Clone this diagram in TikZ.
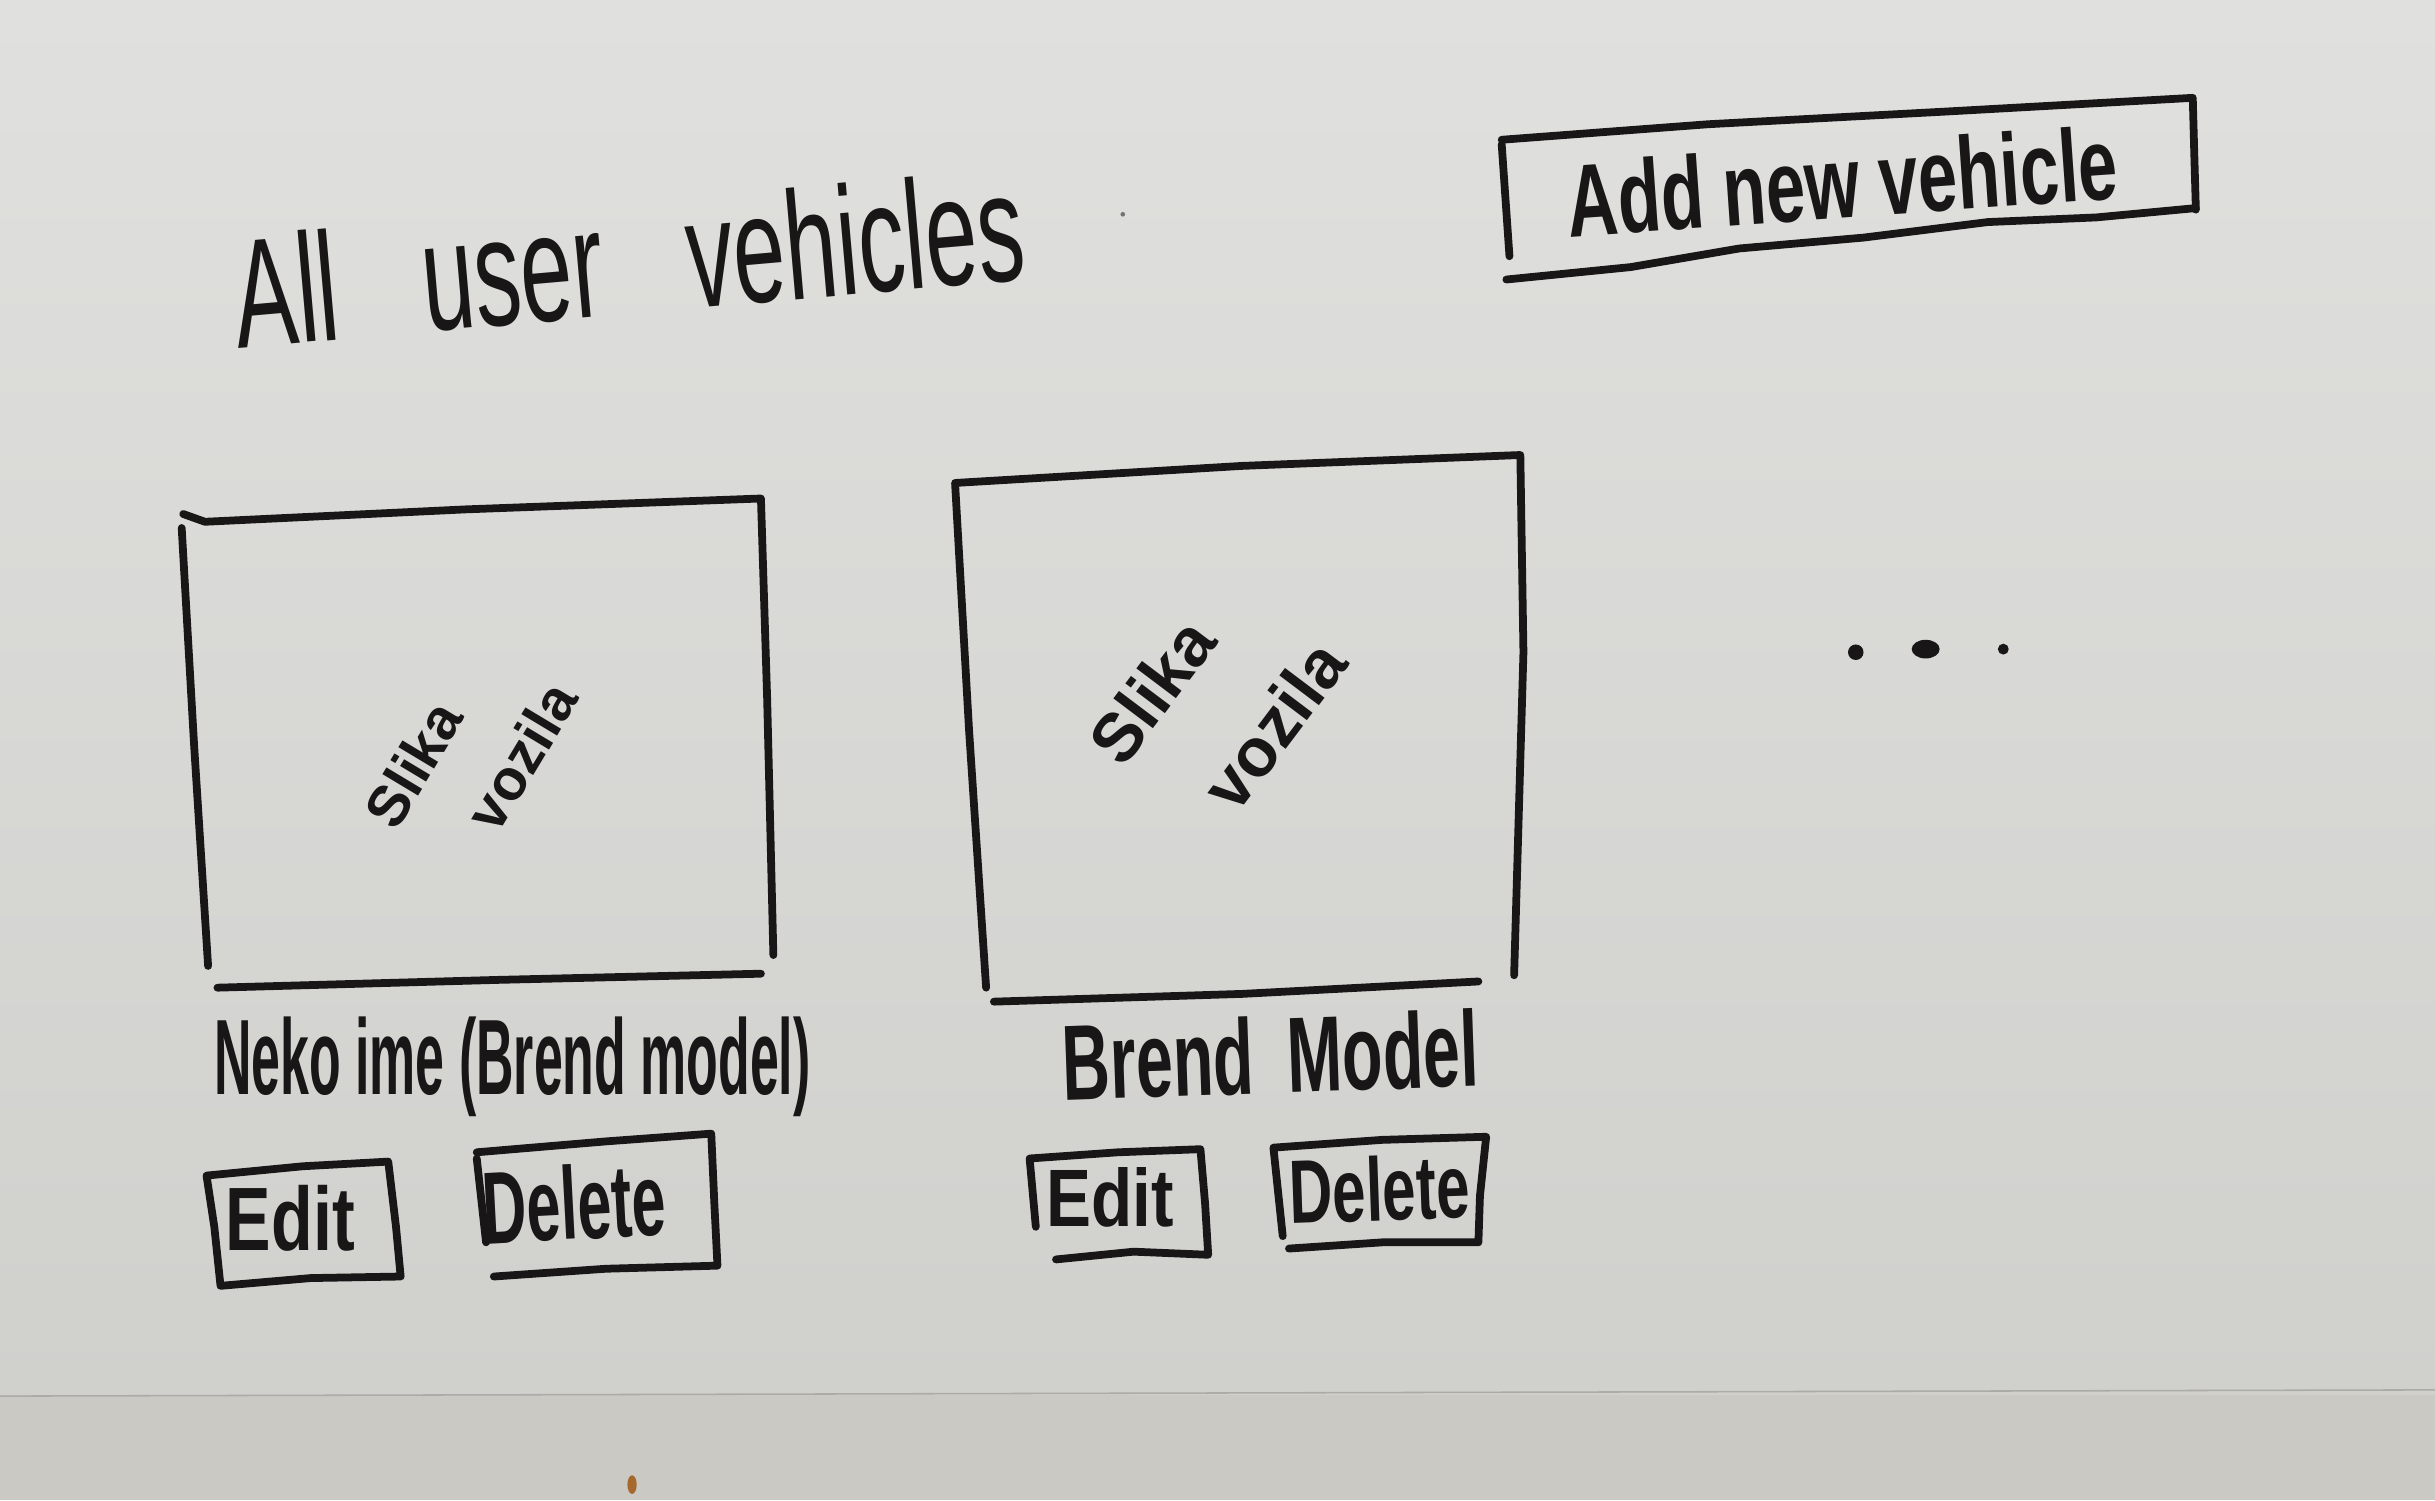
\documentclass[tikz,border=0pt]{standalone}
\usepackage{fontspec}
\setmainfont{Liberation Sans}
\usepackage{graphicx}
\definecolor{paperTop}{RGB}{224,224,222}
\definecolor{paperBot}{RGB}{208,208,205}
\definecolor{bandc}{RGB}{203,201,196}
\definecolor{inkc}{RGB}{24,22,22}
\definecolor{spotc}{RGB}{165,105,45}
\newcommand\hwt[3]{\resizebox{#1pt}{#2pt}{#3}}
\begin{document}
\begin{tikzpicture}[x=1pt,y=-1pt,
  ink/.style={draw=inkc, line width=5pt, line cap=round, line join=round},
  txt/.style={inner sep=0pt, outer sep=0pt, text=inkc}]
\useasboundingbox (0,0) rectangle (1568,966);
\shade[top color=paperTop, bottom color=paperBot] (0,0) rectangle (1568,898);
\fill[bandc] (0,898) rectangle (1568,966);
\draw[line width=1pt, draw=bandc!85!black] (0,899) -- (1568,895);
\fill[spotc] (407,956) ellipse (3pt and 6pt);
\fill[inkc!60] (723,138) circle (1.5pt);

% title
\node[txt, rotate=5, anchor=south] (title) at (408,203)
  {\hwt{510}{72}{All\hspace{0.9em}user\hspace{0.9em}vehicles}};

% add new vehicle button
\node[txt, rotate=4, anchor=south] (addtxt) at (1188,141)
  {\hwt{355}{48}{\bfseries Add new vehicle}};
\draw[ink] (967,90) -- (1100,80) -- (1250,72) -- (1412,63) -- (1413,100) -- (1414,135);
\draw[ink] (967,93) -- (972,165);
\draw[ink] (970,180) -- (1050,172) -- (1120,160) -- (1200,153) -- (1280,143) -- (1350,140) -- (1414,134);

% card 1
\draw[ink] (118,331) -- (132,336) -- (300,328) -- (490,321) -- (494,450) -- (498,615);
\draw[ink] (117,340) -- (125,480) -- (134,622);
\draw[ink] (140,636) -- (320,631) -- (490,627);
\node[txt, rotate=59, align=left, font=\bfseries\fontsize{37}{57}\selectfont] (img1) at (303,486)
  {Slika\\\hspace*{32pt}vozila};
\node[txt, anchor=base] (lab1) at (330,705) {\hwt{384}{50}{\bfseries Neko ime (Brend model)}};
\draw[ink] (133,757) -- (195,751) -- (250,748) -- (255,790) -- (258,822) -- (200,823) -- (142,828) -- (138,790) -- cycle;
\node[txt, anchor=base] (edit1) at (187,805) {\hwt{83}{42}{\bfseries Edit}};
\draw[ink] (307,742) -- (390,735) -- (458,730) -- (460,775) -- (462,815) -- (390,817) -- (318,822);
\draw[ink] (307,746) -- (313,800);
\node[txt, anchor=base, rotate=3] (del1) at (371,798) {\hwt{118}{48}{\bfseries Delete}};

% card 2
\draw[ink] (635,636) -- (624,470) -- (615,311) -- (800,300) -- (979,293) -- (981,420) -- (975,628);
\draw[ink] (640,645) -- (800,640) -- (952,632);
\node[txt, rotate=53, align=left, font=\bfseries\fontsize{44}{76}\selectfont] (img2) at (784,452)
  {Slika\\\hspace*{20pt}vozila};
\node[txt, anchor=base, rotate=2] (lab2) at (819,704) {\hwt{268}{50}{\bfseries Brend\hspace{0.5em}Model}};
\draw[ink] (667,790) -- (663,746) -- (720,742) -- (773,740) -- (776,775) -- (778,808) -- (730,806) -- (680,811);
\node[txt, anchor=base] (edit2) at (715,790) {\hwt{82}{38}{\bfseries Edit}};
\draw[ink] (826,796) -- (820,739) -- (890,734) -- (957,732) -- (953,770) -- (952,800) -- (890,800) -- (830,804);
\node[txt, anchor=base, rotate=2] (del2) at (889,786) {\hwt{116}{42}{\bfseries Delete}};

% more items
\fill[inkc] (1195,420) circle (5pt);
\fill[inkc] (1240,418) ellipse (9pt and 6pt);
\fill[inkc] (1290,418) circle (3.5pt);
\end{tikzpicture}
\end{document}
